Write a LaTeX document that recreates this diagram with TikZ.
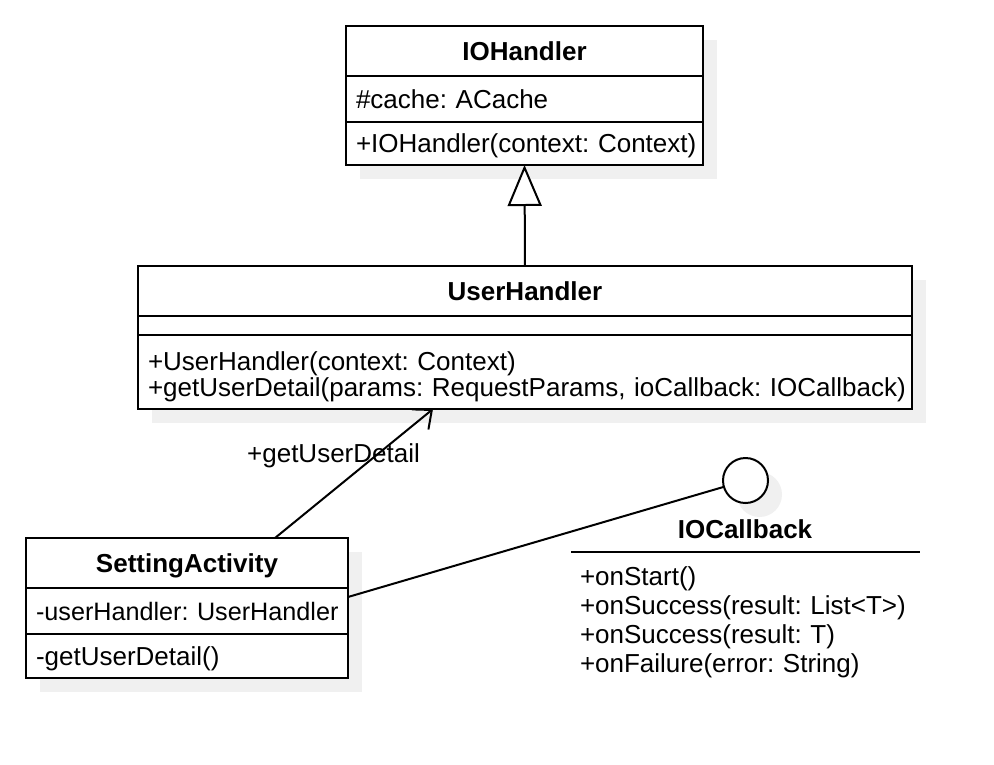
\documentclass[tikz,border=0pt]{standalone}
\usepackage{fontspec}
\setmainfont{Liberation Sans}
\usetikzlibrary{arrows.meta,shadows}
\definecolor{shadowgray}{RGB}{240,240,240}

\begin{document}
\frenchspacing
\begin{tikzpicture}[x=1pt,y=-1pt,
    every node/.style={font=\fontsize{26}{31}\selectfont,inner sep=0pt,outer sep=0pt},
    oneline/.style={text height=19pt,text depth=1pt},
    umlbox/.style={draw,line width=2pt,fill=white,
      general shadow={fill=shadowgray,shadow xshift=14pt,shadow yshift=-14pt}},
    headbox/.style={umlbox,oneline,font=\fontsize{26}{31}\selectfont\bfseries},
    membox/.style={umlbox,oneline,text width=#1,align=left,inner xsep=10pt},
    bar/.style={line width=2pt}]
  \fill[white] (0,0) rectangle (994,764); \useasboundingbox (0,0) rectangle (994,764);
  \node[headbox,minimum width=357pt,minimum height=50pt] (ioh) at (524.5,51) {IOHandler};
  \node[membox=337pt,minimum height=46pt] (ioha) at (524.5,99) {\mbox{\#cache: ACache}};
  \node[membox=337pt,minimum height=43pt] (iohm) at (524.5,143.5) {\mbox{+IOHandler(context: Context)}};
  \node[headbox,minimum width=774pt,minimum height=50pt] (uh) at (525,291) {UserHandler};
  \node[umlbox,minimum width=774pt,minimum height=19pt] (uha) at (525,325.5) {};
  \node[membox=754pt,minimum height=74pt,text depth=23pt,font=\fontsize{26}{26}\selectfont] (uhm)
    at (525,372) {\mbox{+UserHandler(context: Context)}\\\mbox{+getUserDetail(params: RequestParams, ioCallback: IOCallback)}};
  \node[headbox,minimum width=322pt,minimum height=50pt] (sa) at (187,563) {SettingActivity};
  \node[membox=302pt,minimum height=46pt,font=\fontsize{25.2}{31}\selectfont] (saa) at (187,611) {\mbox{-userHandler: UserHandler}};
  \node[membox=302pt,minimum height=44pt] (sam) at (187,656) {\mbox{-getUserDetail()}};
  \node[umlbox,circle,minimum size=45pt] (cb) at (745.5,480.5) {};
  \node[oneline,font=\fontsize{26}{31}\selectfont\bfseries] (cbt) at (745,529.5) {IOCallback};
  \coordinate (cbl) at (571,552); \coordinate (cbr) at (920,552);
  \node[anchor=base west,text width=340pt,align=left,font=\fontsize{26}{29}\selectfont] (cbm)
    at (580,585) {+onStart()\\+onSuccess(result: List<T>)\\+onSuccess(result: T)\\+onFailure(error: String)};
  \node[oneline] (lbl) at (333.5,453) {+getUserDetail};
  \draw[bar,-{Triangle[length=41pt,width=34pt,fill=white]}] (uh.north) -- (iohm.south);
  \draw[bar,-{Straight Barb[length=15pt,width=26pt]}] ([xshift=88pt]sa.north) -- ([xshift=-92pt]uhm.south);
  \draw[bar] ([yshift=14pt]saa.east) -- (cb);
  \draw[bar] (cbl) -- (cbr);
\end{tikzpicture}
\end{document}
